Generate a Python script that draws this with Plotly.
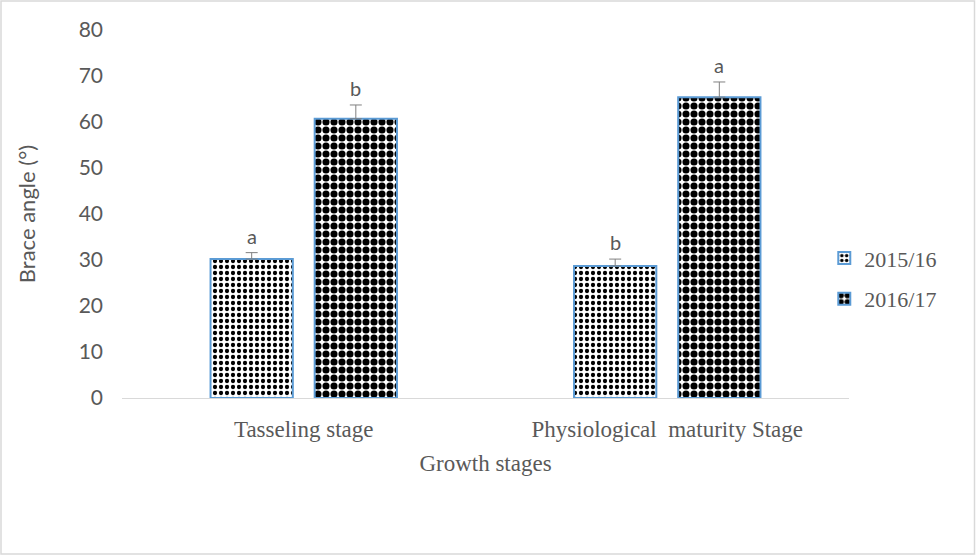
import plotly.graph_objects as go

# Brace angle by growth stage and season
stages = ["Tasseling stage", "Physiological  maturity Stage"]
seasons = ["2015/16", "2016/17"]
angle_1516 = [30.2, 28.7]
angle_1617 = [60.7, 65.4]
err_1516 = [1.4, 1.5]
err_1617 = [3.0, 3.3]
letters_1516 = ["a", "b"]
letters_1617 = ["b", "a"]
y_ticks = [0, 10, 20, 30, 40, 50, 60, 70, 80]

W, H = 976, 556
ML, MR, MT, MB = 122, 127, 30, 158
BARGAP, GROUPGAP = 0.427, 0.21

grey = "#595959"
edge = "#5B9BD5"
serif = "Liberation Serif, Times New Roman, serif"
sans = "Lato, Open Sans, sans-serif"

fig = go.Figure()

series = [
    (seasons[0], angle_1516, err_1516, letters_1516, dict(shape=".", size=6, solidity=0.4)),
    (seasons[1], angle_1617, err_1617, letters_1617, dict(shape=".", size=8, solidity=0.62)),
]
nser = len(series)
slot = (1 - BARGAP) / nser
for si, (name, vals, errs, letters, pat) in enumerate(series):
    fig.add_trace(go.Bar(
        name=name, x=stages, y=vals, legendgroup=name,
        marker=dict(color="white", line=dict(color=edge, width=2),
                    pattern=dict(fgcolor="black", bgcolor="white", fillmode="replace", **pat)),
        error_y=dict(type="data", array=errs, symmetric=False, arrayminus=[0] * len(errs),
                     color="#808080", thickness=1, width=6),
    ))
    # significance letters above each error bar
    dx = -(1 - BARGAP) / 2 + slot * (si + 0.5)
    for ci, (v, e, t) in enumerate(zip(vals, errs, letters)):
        fig.add_annotation(x=ci + dx, y=v + e, xref="x", yref="y", text=t,
                           showarrow=False, yanchor="bottom", yshift=3,
                           font=dict(family=sans, size=20, color=grey))

fig.update_layout(
    width=W, height=H,
    margin=dict(l=ML, r=MR, t=MT, b=MB),
    paper_bgcolor="white", plot_bgcolor="white",
    barmode="group", bargap=BARGAP, bargroupgap=GROUPGAP,
    showlegend=True,
    legend=dict(x=0.966, xanchor="left", y=0.324, yanchor="middle",
                traceorder="grouped", tracegroupgap=9,
                font=dict(family=serif, size=22, color=grey),
                itemwidth=30, bgcolor="rgba(0,0,0,0)"),
    xaxis=dict(
        showline=True, linecolor="#d9d9d9", linewidth=1, ticks="",
        ticklabelstandoff=10,
        tickfont=dict(family=serif, size=23, color=grey),
        title=dict(text="Growth stages", standoff=14,
                   font=dict(family=serif, size=23, color=grey)),
    ),
    yaxis=dict(
        range=[0, 80], tickvals=y_ticks, showgrid=False, zeroline=False, showline=False,
        ticks="", ticklabelstandoff=18,
        tickfont=dict(family=sans, size=21, color=grey),
        title=dict(text="Brace angle (°)", standoff=36,
                   font=dict(family=sans, size=22, color=grey)),
    ),
)

# outer chart border
pw, ph = W - ML - MR, H - MT - MB
fig.add_shape(type="rect", xref="paper", yref="paper",
              x0=(1 - ML) / pw, x1=(W - 1.5 - ML) / pw,
              y0=-(H - 2 - MT - ph) / ph, y1=(H - MB - 1) / ph,
              line=dict(color="#d9d9d9", width=1.5), fillcolor="rgba(0,0,0,0)", layer="below")

fig.write_html("out.html")
